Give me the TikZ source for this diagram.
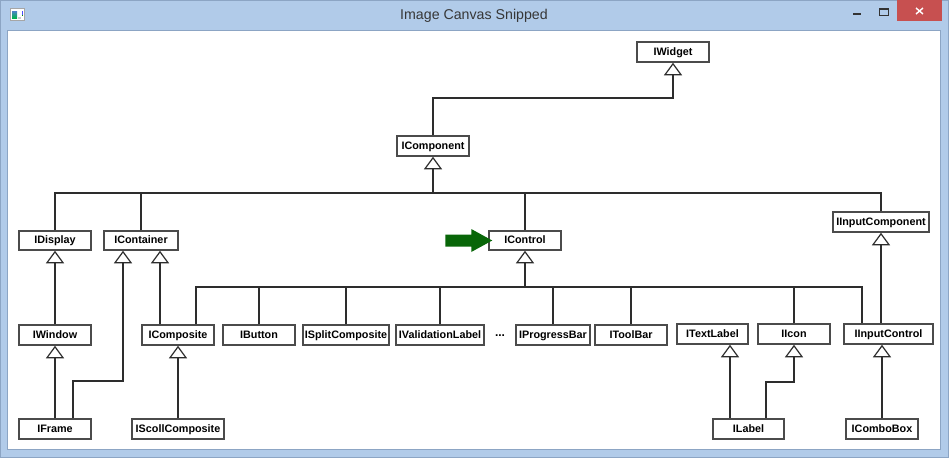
\documentclass[tikz,border=0pt]{standalone}
\usepackage{fontspec}
\setmainfont{Liberation Sans}
\usetikzlibrary{arrows.meta,calc}
\definecolor{winblue}{RGB}{177,203,233}
\definecolor{winedge}{RGB}{140,165,196}
\definecolor{closered}{RGB}{199,80,80}
\definecolor{linegray}{RGB}{45,45,45}
\definecolor{boxgray}{RGB}{75,75,75}
\definecolor{arrowgreen}{RGB}{8,102,8}
\definecolor{titlegray}{RGB}{55,55,55}
\begin{document}
\begin{tikzpicture}[x=1pt,y=-1pt,
  cls/.style={draw=boxgray, line width=1.5pt, fill=white, inner sep=0pt,
    minimum height=20pt, text height=8pt, text depth=1.5pt,
    font=\fontsize{10.8}{12}\selectfont\bfseries},
  conn/.style={draw=linegray, line width=1.5pt},
  gen/.style={conn, -{Triangle[open,length=12.5pt,width=18pt,line width=1.2pt,fill=white]}},
]
\useasboundingbox (0,0) rectangle (949,458);
% window frame
\fill[winblue] (0,0) rectangle (949,458);
\draw[winedge, line width=1pt] (0.5,0.5) rectangle (948.5,457.5);
\fill[white] (7,30) rectangle (941,450);
\draw[winedge, line width=1pt] (7.5,30.5) rectangle (940.5,449.5);
% title bar
\node[font=\fontsize{14.2}{16}\selectfont, text=titlegray] (title) at (474,16) {Image Canvas Snipped};
\fill[closered] (897,0) rectangle (942,21);
\draw[white, line width=1.4pt] (916,8) -- (923,14) (923,8) -- (916,14);
\fill[black!80] (853,13) rectangle (861,15);
\draw[black!80, line width=1pt] (879.5,8.5) rectangle (888.5,15.5);
\fill[black!80] (879,8) rectangle (889,10);
% app icon
\draw[gray!70, fill=white, line width=0.8pt] (10.5,8.5) rectangle (24.5,20.5);
\shade[top color=teal!60!blue!70, bottom color=green!40!teal] (12,11) rectangle (17,18);
\fill[blue!70] (22,11) rectangle (23,15);
\fill[green!60!black] (22,15) rectangle (23,16);
\fill[gray!40] (18,17) rectangle (21,19);

% classes
\node[cls, minimum width=72pt] (IWidget) at (673,52) {IWidget};
\node[cls, minimum width=72pt] (IComponent) at (433,146) {IComponent};
\node[cls, minimum width=72pt, minimum height=19pt] (IDisplay) at (55,240.5) {IDisplay};
\node[cls, minimum width=74pt, minimum height=19pt] (IContainer) at (141,240.5) {IContainer};
\node[cls, minimum width=72pt, minimum height=19pt] (IControl) at (525,240.5) {IControl};
\node[cls, minimum width=96pt] (IInputComponent) at (881,222) {IInputComponent};
\node[cls, minimum width=72pt] (IWindow) at (55,335) {IWindow};
\node[cls, minimum width=72pt] (IComposite) at (178,335) {IComposite};
\node[cls, minimum width=72pt] (IButton) at (259,335) {IButton};
\node[cls, minimum width=86pt] (ISplitComposite) at (346,335) {ISplitComposite};
\node[cls, minimum width=88pt] (IValidationLabel) at (440,335) {IValidationLabel};
\node[font=\fontsize{12}{14}\selectfont\bfseries] (dots) at (500,336) {...};
\node[cls, minimum width=74pt] (IProgressBar) at (553,335) {IProgressBar};
\node[cls, minimum width=72pt] (IToolBar) at (631,335) {IToolBar};
\node[cls, minimum width=71pt] (ITextLabel) at (712.5,334) {ITextLabel};
\node[cls, minimum width=72pt] (IIcon) at (794,334) {IIcon};
\node[cls, minimum width=89pt] (IInputControl) at (888.5,334) {IInputControl};
\node[cls, minimum width=72pt] (IFrame) at (55,429) {IFrame};
\node[cls, minimum width=92pt] (IScollComposite) at (178,429) {IScollComposite};
\node[cls, minimum width=71pt] (ILabel) at (748.5,429) {ILabel};
\node[cls, minimum width=72pt] (IComboBox) at (882,429) {IComboBox};

% bus and anchor coordinates
\coordinate (wbus) at (673,98);
\coordinate (cbus) at (433,193);
\coordinate (kbus) at (525,287);
\coordinate (fbend) at (98,381);
\coordinate (lbend) at (780,382);
\coordinate (ctA) at ([xshift=-18pt]IContainer.south);
\coordinate (ctB) at ([xshift=19pt]IContainer.south);
\coordinate (frA) at ([xshift=18pt]IFrame.north);
\coordinate (cpA) at ([xshift=18pt]IComposite.north);
\coordinate (icA) at ([xshift=-26.5pt]IInputControl.north);
\coordinate (tlA) at ([xshift=17.5pt]ITextLabel.south);
\coordinate (lbA) at ([xshift=-18.5pt]ILabel.north);
\coordinate (lbB) at ([xshift=17.5pt]ILabel.north);

% IComponent -> IWidget
\draw[gen] (IComponent.north) |- (wbus) -- (IWidget.south);
% children of IComponent
\draw[gen] (cbus) -- (IComponent.south);
\draw[conn] (IDisplay.north) |- (cbus);
\draw[conn] (IContainer.north) |- (cbus);
\draw[conn] (IControl.north) |- (cbus);
\draw[conn] (IInputComponent.north) |- (cbus);
% children of IControl
\draw[gen] (kbus) -- (IControl.south);
\draw[conn] (cpA) |- (kbus);
\draw[conn] (IButton.north) |- (kbus);
\draw[conn] (ISplitComposite.north) |- (kbus);
\draw[conn] (IValidationLabel.north) |- (kbus);
\draw[conn] (IProgressBar.north) |- (kbus);
\draw[conn] (IToolBar.north) |- (kbus);
\draw[conn] (IIcon.north) |- (kbus);
\draw[conn] (icA) |- (kbus);
% other generalizations
\draw[gen] (IInputControl.north -| IInputComponent.south) -- (IInputComponent.south);
\draw[gen] (IWindow.north) -- (IDisplay.south);
\draw[gen] (IComposite.north -| ctB) -- (ctB);
\draw[gen] (IFrame.north) -- (IWindow.south);
\draw[gen] (frA) |- (fbend) -| (ctA);
\draw[gen] (IScollComposite.north) -- (IScollComposite.north |- IComposite.south);
\draw[gen] (lbA) -- (tlA);
\draw[gen] (lbB) |- (lbend) -| (IIcon.south);
\draw[gen] (IComboBox.north) -- (IComboBox.north |- IInputControl.south);

% green pointer
\fill[arrowgreen, shift={(IControl.west)}] (-43,-6) -- (-17,-6) -- (-17,-11.5) -- (4,0) -- (-17,11.5) -- (-17,6) -- (-43,6) -- cycle;
\end{tikzpicture}
\end{document}
